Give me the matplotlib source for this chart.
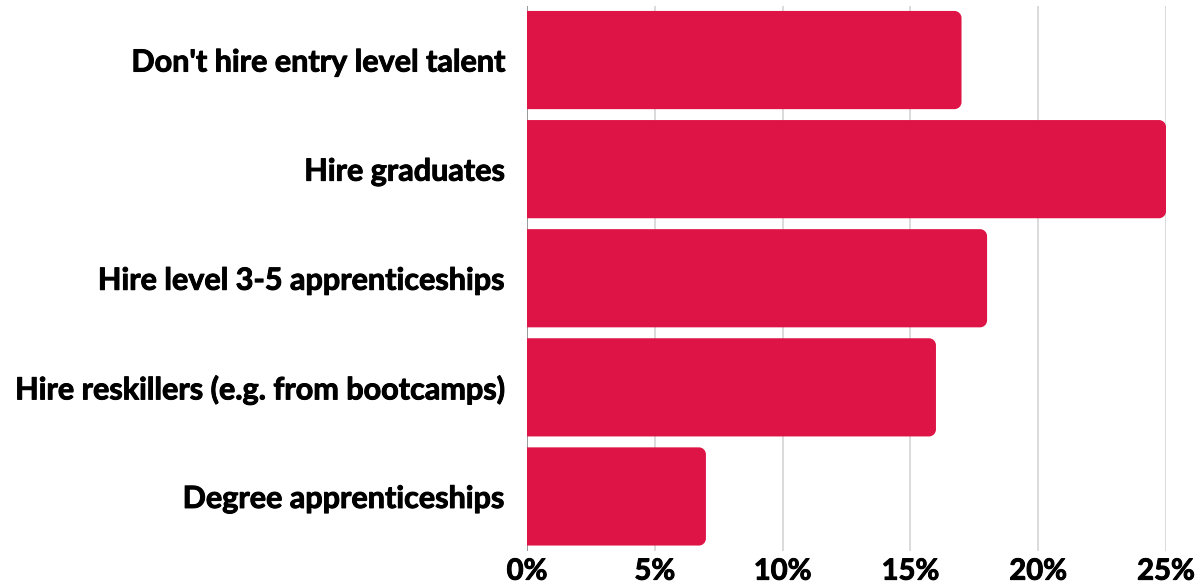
import matplotlib
matplotlib.use("Agg")
import matplotlib.pyplot as plt
import matplotlib.patheffects as pe
from matplotlib.path import Path
from matplotlib.patches import PathPatch

categories = [
    "Don't hire entry level talent",
    "Hire graduates",
    "Hire level 3-5 apprenticeships",
    "Hire reskillers (e.g. from bootcamps)",
    "Degree apprenticeships",
]
values = [17, 25, 18, 16, 7]
ticks = [0, 5, 10, 15, 20, 25]
tick_labels = [f"{t}%" for t in ticks]

BAR_COLOR = "#DE1446"
plt.rcParams["font.family"] = ["Lato", "DejaVu Sans"]

W, H, DPI = 1201, 587, 100
fig = plt.figure(figsize=(W / DPI, H / DPI), dpi=DPI)
left, right, top, bottom = 527, 1166, 5.5, 551
ax = fig.add_axes([left / W, 1 - bottom / H, (right - left) / W, (bottom - top) / H])

n = len(categories)
ax.set_xlim(0, 25)
ax.set_ylim(n - 0.5, -0.5)

# pixel scale for rounded corners
px_x = 25 / (right - left)
px_y = n / (bottom - top)
r_px = 7
rx, ry = r_px * px_x, r_px * px_y
k = 0.5523

bar_h = 0.9
for i, v in enumerate(values):
    y0, y1 = i - bar_h / 2, i + bar_h / 2
    verts = [
        (0, y0), (v - rx, y0),
        (v - rx + k * rx, y0), (v, y0 + ry - k * ry), (v, y0 + ry),
        (v, y1 - ry),
        (v, y1 - ry + k * ry), (v - rx + k * rx, y1), (v - rx, y1),
        (0, y1), (0, y0),
    ]
    codes = [Path.MOVETO, Path.LINETO,
             Path.CURVE4, Path.CURVE4, Path.CURVE4,
             Path.LINETO,
             Path.CURVE4, Path.CURVE4, Path.CURVE4,
             Path.LINETO, Path.CLOSEPOLY]
    ax.add_patch(PathPatch(Path(verts, codes), facecolor=BAR_COLOR,
                           edgecolor="none", zorder=3))

for t in ticks:
    ax.axvline(t, color="#888888" if t == 0 else "#d4d4d4", lw=1.2, zorder=1)

for s in ax.spines.values():
    s.set_visible(False)

heavy = [pe.withStroke(linewidth=0.7, foreground="black")]
ax.set_yticks(range(n))
ax.set_yticklabels(categories, fontsize=22, fontweight="bold")
ax.set_xticks(ticks)
ax.set_xticklabels(tick_labels, fontsize=21, fontweight="bold")
for lab in ax.get_yticklabels() + ax.get_xticklabels():
    lab.set_path_effects(heavy)
ax.tick_params(axis="y", length=0, pad=16)
ax.tick_params(axis="x", length=0, pad=5.5)

fig.savefig("out.png", dpi=DPI)
